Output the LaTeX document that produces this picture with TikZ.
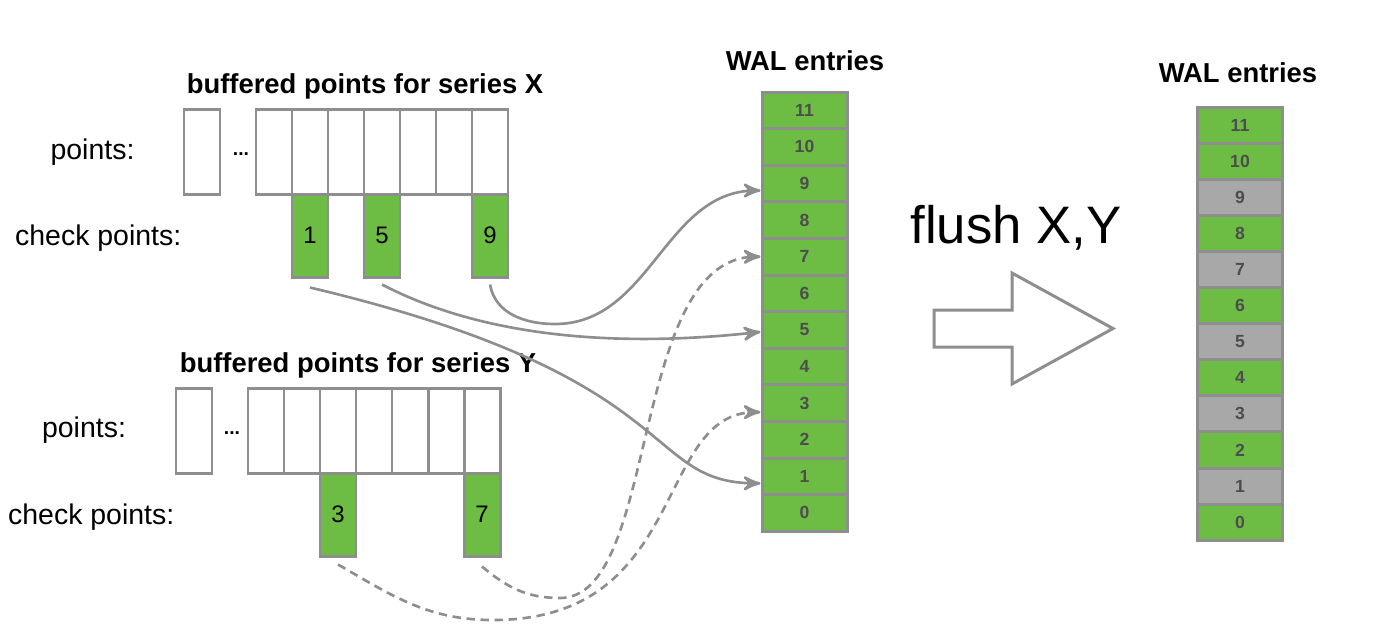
\documentclass[tikz,border=0pt]{standalone}
\usepackage{fontspec}
\setmainfont{Liberation Sans}
\usetikzlibrary{arrows}

\definecolor{walgreen}{HTML}{6DBD45}
\definecolor{walgray}{HTML}{A8A8A8}
\definecolor{edgegray}{HTML}{8E8E8E}
\definecolor{numgray}{HTML}{4D4D4D}

\begin{document}
\begin{tikzpicture}[
    >=stealth',
    cell/.style = {
      draw = edgegray,
      fill = white,
      line width = 0.85pt,
      inner sep = 0pt,
      minimum width = 0.36cm,
      minimum height = 0.85cm
    },
    check/.style = {
      cell,
      fill = walgreen,
      minimum height = 0.83cm,
      font = \fontsize{6.8}{8}\selectfont
    },
    entry/.style = {
      draw = edgegray,
      fill = walgreen,
      line width = 0.85pt,
      inner sep = 0pt,
      minimum width = 0.85cm,
      minimum height = 0.366cm,
      text = numgray,
      font = \bfseries\fontsize{5}{6}\selectfont
    },
    flushed/.style = {entry, minimum height = 0.361cm},
    gone/.style = {flushed, fill = walgray},
    title/.style = {anchor = base, font = \bfseries\fontsize{7.8}{9}\selectfont},
    caption/.style = {anchor = base, inner sep = 0pt, font = \fontsize{8.1}{9}\selectfont},
    dots/.style = {anchor = base, font = \bfseries\fontsize{5.5}{6}\selectfont},
    link/.style = {->, draw = edgegray, line width = 0.75pt},
    later/.style = {link, dash pattern = on 2.4pt off 1.6pt}
  ]
  \useasboundingbox (0,0) rectangle (14,-6.34);

  % series X
  \node[title] (xtitle) at (3.65,-0.93) {buffered points for series X};
  \node[caption] (xpts) at (0.925,-1.59) {points:};
  \node[caption,anchor=base east] (xchk) at (1.82,-2.45) {check points:};

  \draw (2.02,-1.515) node[cell] (xp0) {};
  \draw (2.41,-1.55)  node[dots] (xdots) {...};
  \draw (2.74,-1.515) node[cell] (xp1) {};
  \draw (3.10,-1.515) node[cell] (xp2) {};
  \draw (3.46,-1.515) node[cell] (xp3) {};
  \draw (3.82,-1.515) node[cell] (xp4) {};
  \draw (4.18,-1.515) node[cell] (xp5) {};
  \draw (4.54,-1.515) node[cell] (xp6) {};
  \draw (4.90,-1.515) node[cell] (xp7) {};

  \draw (3.10,-2.355) node[check] (xc1) {1};
  \draw (3.82,-2.355) node[check] (xc5) {5};
  \draw (4.90,-2.355) node[check] (xc9) {9};

  % series Y
  \node[title] (ytitle) at (3.58,-3.72) {buffered points for series Y};
  \node[caption] (ypts) at (0.84,-4.37) {points:};
  \node[caption,anchor=base east] (ychk) at (1.75,-5.24) {check points:};

  \draw (1.94,-4.31) node[cell] (yp0) {};
  \draw (2.32,-4.34) node[dots] (ydots) {...};
  \draw (2.66,-4.31) node[cell] (yp1) {};
  \draw (3.02,-4.31) node[cell] (yp2) {};
  \draw (3.38,-4.31) node[cell] (yp3) {};
  \draw (3.74,-4.31) node[cell] (yp4) {};
  \draw (4.10,-4.31) node[cell] (yp5) {};
  \draw (4.46,-4.31) node[cell] (yp6) {};
  \draw (4.82,-4.31) node[cell] (yp7) {};

  \draw (3.38,-5.145) node[check] (yc3) {3};
  \draw (4.82,-5.145) node[check] (yc7) {7};

  % WAL before flush
  \node[title] (watitle) at (8.05,-0.70) {WAL entries};
  \draw (8.045,-1.103) node[entry] (wa11) {11};
  \draw (8.045,-1.469) node[entry] (wa10) {10};
  \draw (8.045,-1.835) node[entry] (wa9) {9};
  \draw (8.045,-2.201) node[entry] (wa8) {8};
  \draw (8.045,-2.567) node[entry] (wa7) {7};
  \draw (8.045,-2.933) node[entry] (wa6) {6};
  \draw (8.045,-3.299) node[entry] (wa5) {5};
  \draw (8.045,-3.665) node[entry] (wa4) {4};
  \draw (8.045,-4.031) node[entry] (wa3) {3};
  \draw (8.045,-4.397) node[entry] (wa2) {2};
  \draw (8.045,-4.763) node[entry] (wa1) {1};
  \draw (8.045,-5.129) node[entry] (wa0) {0};

  % WAL after flush
  \node[title] (wbtitle) at (12.38,-0.82) {WAL entries};
  \draw (12.40,-1.251) node[flushed] (wb11) {11};
  \draw (12.40,-1.612) node[flushed] (wb10) {10};
  \draw (12.40,-1.973) node[gone]    (wb9) {9};
  \draw (12.40,-2.334) node[flushed] (wb8) {8};
  \draw (12.40,-2.695) node[gone]    (wb7) {7};
  \draw (12.40,-3.056) node[flushed] (wb6) {6};
  \draw (12.40,-3.417) node[gone]    (wb5) {5};
  \draw (12.40,-3.778) node[flushed] (wb4) {4};
  \draw (12.40,-4.139) node[gone]    (wb3) {3};
  \draw (12.40,-4.500) node[flushed] (wb2) {2};
  \draw (12.40,-4.861) node[gone]    (wb1) {1};
  \draw (12.40,-5.222) node[flushed] (wb0) {0};

  % flush
  \node[anchor=base,font=\fontsize{15}{18}\selectfont] (flushtxt) at (10.16,-2.43) {flush X,Y};
  \draw[draw=edgegray,line width=0.85pt] (9.34,-3.10) -- (10.12,-3.10) -- (10.12,-2.73)
    -- (11.13,-3.285) -- (10.12,-3.84) -- (10.12,-3.47) -- (9.34,-3.47) -- cycle;

  % check points to WAL
  \coordinate (x9low) at (5.55,-3.24);
  \coordinate (y3low) at (4.93,-6.20);
  \coordinate (y7low) at (5.60,-5.98);

  \draw[link] ([yshift=-0.09cm]xc1.south) .. controls +(3.8,-0.9) and +(-1.2,0) .. ([yshift=-0.07cm]wa1.west);
  \draw[link] ([yshift=-0.06cm]xc5.south) .. controls +(0.9,-0.47) and +(-1.62,-0.18) .. ([yshift=-0.02cm]wa5.west);
  \draw[link] ([yshift=-0.06cm]xc9.south) to[out=-80,in=180] (x9low) to[out=0,in=180] ([yshift=-0.07cm]wa9.west);
  \draw[later] ([yshift=-0.07cm]yc3.south) to[out=-30,in=180] (y3low)
    .. controls +(1.97,0) and +(-1.07,0) .. ([yshift=-0.09cm]wa3.west);
  \draw[later] ([yshift=-0.09cm]yc7.south) to[out=-40,in=180] (y7low)
    .. controls +(1.0,0) and +(-1.32,0) .. (wa7.west);
\end{tikzpicture}
\end{document}
